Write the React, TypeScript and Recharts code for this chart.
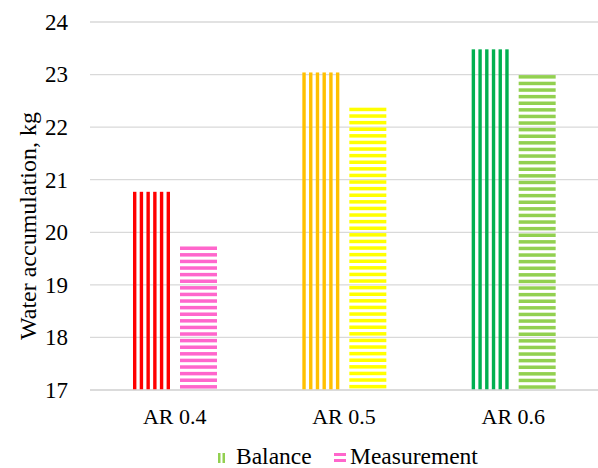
import React from 'react';
import { BarChart, Bar, XAxis, YAxis, CartesianGrid, Legend, Cell, Label } from 'recharts';

const categories = ['AR 0.4', 'AR 0.5', 'AR 0.6'];
const balance = [20.77, 23.04, 23.48];
const measurement = [19.73, 22.37, 22.99];
const balanceColors = ['#ff0000', '#ffc000', '#00b050'];
const measurementColors = ['#ff66cc', '#ffff00', '#92d050'];
const yTicks = [17, 18, 19, 20, 21, 22, 23, 24];

const data = categories.map((name, i) => ({
  name,
  balance: balance[i],
  measurement: measurement[i],
}));

const FONT = "'Liberation Serif', 'Times New Roman', serif";
const GRID = '#d9d9d9';

// bar filled with vertical stripes
const VStripes = (props: any) => {
  const { x, y, width, height, fill } = props;
  if (!height || height <= 0) return null;
  const w = 3.4;
  const n = Math.max(1, Math.round(width / 6.2));
  const step = n > 1 ? (width - w) / (n - 1) : 0;
  return (
    <g>
      {Array.from({ length: n }, (_, i) => (
        <rect key={i} x={x + i * step} y={y} width={w} height={height} fill={fill} />
      ))}
    </g>
  );
};

// bar filled with horizontal stripes, starting at the top edge
const HStripes = (props: any) => {
  const { x, y, width, height, fill } = props;
  if (!height || height <= 0) return null;
  const t = 3.5;
  const step = 6.6;
  const rows = [];
  for (let yy = y; yy < y + height; yy += step) {
    rows.push(
      <rect key={yy} x={x} y={yy} width={width} height={Math.min(t, y + height - yy)} fill={fill} />
    );
  }
  return <g>{rows}</g>;
};

const XTick = (props: any) => {
  const { x, y, payload } = props;
  return (
    <text x={x} y={y + 15} textAnchor="middle" style={{ fontFamily: FONT, fontSize: 22 }} fill="#000">
      {payload.value}
    </text>
  );
};

const YTick = (props: any) => {
  const { x, y, payload } = props;
  return (
    <text x={x} y={y + 7.8} textAnchor="end" style={{ fontFamily: FONT, fontSize: 23 }} fill="#000">
      {payload.value}
    </text>
  );
};

const LegendContent = () => (
  <div style={{ position: 'relative', width: 598, height: 23, fontFamily: FONT, fontSize: 23.5, color: '#000' }}>
    <svg width={598} height={23} style={{ position: 'absolute', left: 0, top: 0 }}>
      <rect x={218} y={8} width={2.5} height={10} fill="#92d050" />
      <rect x={222.5} y={8} width={2.5} height={10} fill="#92d050" />
      <rect x={334} y={8} width={12} height={3} fill="#ff66cc" />
      <rect x={334} y={14} width={12} height={3} fill="#ff66cc" />
    </svg>
    <span style={{ position: 'absolute', left: 236, top: 0, lineHeight: '23px' }}>Balance</span>
    <span style={{ position: 'absolute', left: 350, top: 0, lineHeight: '23px' }}>Measurement</span>
  </div>
);

export default function App() {
  return (
    <div style={{ position: 'absolute', left: 0, top: 0, background: '#fff', fontFamily: FONT }}>
      <BarChart
        width={598}
        height={468}
        data={data}
        margin={{ top: 22, right: 0, bottom: 0, left: 0 }}
        barSize={37}
        barGap={10}
        style={{ fontFamily: FONT }}
      >
        <CartesianGrid vertical={false} stroke={GRID} strokeWidth={1.3} />
        <XAxis
          dataKey="name"
          tickLine={false}
          axisLine={{ stroke: GRID, strokeWidth: 1.3 }}
          tickSize={0}
          tickMargin={19}
          height={55}
          tick={<XTick />}
        />
        <YAxis
          domain={[17, 24]}
          ticks={yTicks}
          width={90}
          tickLine={false}
          axisLine={false}
          tickSize={0}
          tickMargin={22}
          allowDataOverflow
          tick={<YTick />}
        >
          <Label
            content={({ viewBox }: any) => {
              const cx = viewBox.x + 28;
              const cy = viewBox.y + viewBox.height / 2 + 20;
              return (
                <text
                  x={cx}
                  y={cy}
                  transform={`rotate(-90, ${cx}, ${cy})`}
                  textAnchor="middle"
                  dominantBaseline="central"
                  style={{ fontFamily: FONT, fontSize: 24 }}
                  fill="#000"
                >
                  Water accumulation, kg
                </text>
              );
            }}
          />
        </YAxis>
        <Legend verticalAlign="bottom" content={<LegendContent />} wrapperStyle={{ left: 0, width: 598 }} />
        <Bar dataKey="balance" name="Balance" shape={<VStripes />} isAnimationActive={false}>
          {data.map((_, i) => (
            <Cell key={i} fill={balanceColors[i]} />
          ))}
        </Bar>
        <Bar dataKey="measurement" name="Measurement" shape={<HStripes />} isAnimationActive={false}>
          {data.map((_, i) => (
            <Cell key={i} fill={measurementColors[i]} />
          ))}
        </Bar>
      </BarChart>
    </div>
  );
}
